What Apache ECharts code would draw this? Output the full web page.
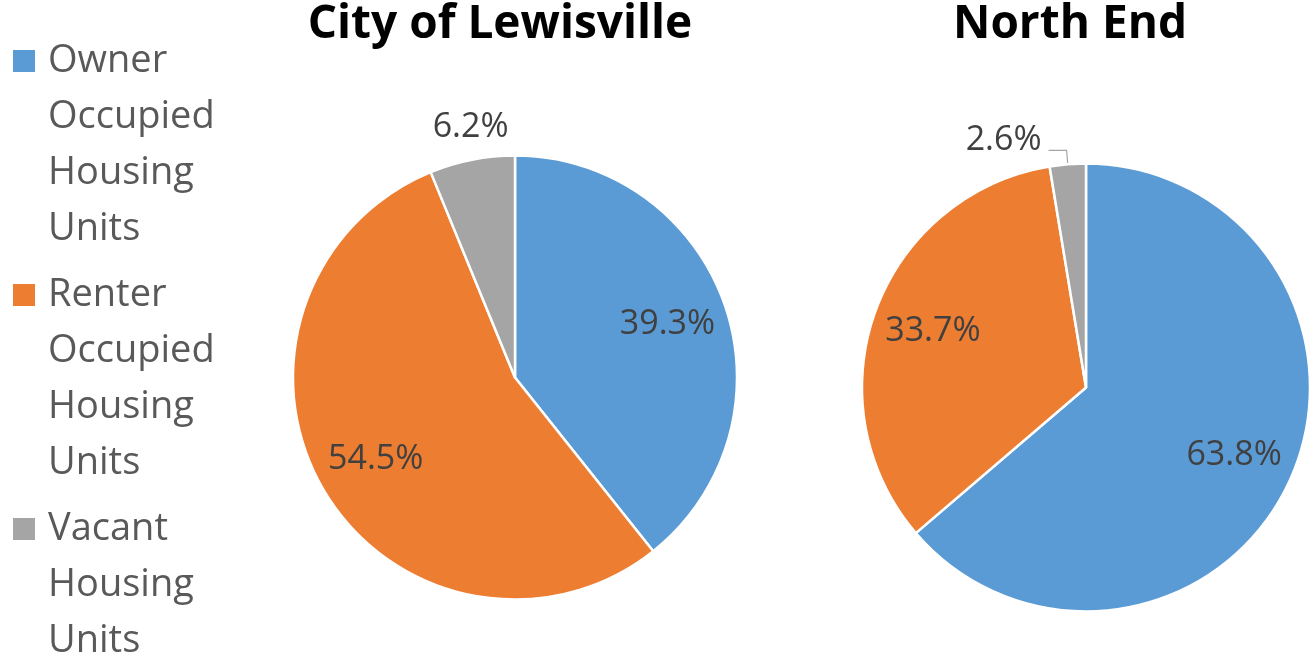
<!DOCTYPE html>
<html>
<head>
<meta charset="utf-8">
<script src="https://cdn.jsdelivr.net/npm/echarts@6/dist/echarts.min.js"></script>
<style>
    html, body { margin: 0; padding: 0; background: #fff; }
    #chart { width: 1316px; height: 656px; }
</style>
</head>
<body>
<div id="chart"></div>
<script>
const categories = ['Owner Occupied Housing Units', 'Renter Occupied Housing Units', 'Vacant Housing Units'];
const lewisville = [39.3, 54.5, 6.2];
const northEnd = [63.8, 33.7, 2.6];
const colors = ['#5B9BD5', '#ED7D31', '#A5A5A5'];

const font = '"Open Sans", sans-serif';

// square sits on the first text line; invisible points stretch the icon box to 4 lines
const legendIcon = 'path://M0,0L0.01,0M0,17L22,17L22,39L0,39ZM0,224L0.01,224';

function pieData(values) {
    return values.map((v, i) => ({
        name: categories[i],
        value: v,
        label: i === 2 ? { position: 'outside' } : undefined
    }));
}

function basePie(values, center, r) {
    return {
        type: 'pie',
        center: center,
        radius: [0, r],
        startAngle: 90,
        label: { show: false },
        labelLine: { show: false },
        itemStyle: { borderColor: '#fff', borderWidth: 2.5 },
        data: values.map((v, i) => ({ name: categories[i], value: v }))
    };
}

function labelPie(values, center, r, extra) {
    return Object.assign({
        type: 'pie',
        center: center,
        radius: [Math.round(r * 0.43), r],
        startAngle: 90,
        silent: true,
        avoidLabelOverlap: false,
        itemStyle: { color: 'rgba(0,0,0,0)', borderWidth: 0 },
        label: {
            show: true,
            position: 'inside',
            fontFamily: font,
            fontSize: 34,
            color: '#404040',
            formatter: p => p.value.toFixed(1) + '%'
        },
        data: pieData(values)
    }, extra);
}

const chart = echarts.init(document.getElementById('chart'));

chart.setOption({
    animation: false,
    color: colors,
    title: [
        {
            text: 'City of Lewisville', left: 500, top: 2, textAlign: 'center', padding: 0,
            textStyle: { fontFamily: font, fontSize: 46, fontWeight: 'bold', color: '#000' }
        },
        {
            text: 'North End', left: 1070, top: 2, textAlign: 'center', padding: 0,
            textStyle: { fontFamily: font, fontSize: 46, fontWeight: 'bold', color: '#000' }
        }
    ],
    legend: {
        orient: 'vertical',
        left: 13,
        top: 33,
        height: 900,
        padding: 0,
        itemWidth: 22,
        itemHeight: 224,
        itemGap: 10,
        icon: legendIcon,
        itemStyle: { borderWidth: 0 },
        data: categories,
        formatter: name => {
            const lines = name.split(' ');
            while (lines.length < 4) lines.push('');
            return lines.join('\n');
        },
        textStyle: {
            fontFamily: font,
            fontSize: 38,
            lineHeight: 56,
            color: '#595959',
            padding: [0, 0, 0, 8]
        }
    },
    series: [
        basePie(lewisville, [515, 377.5], 222),
        basePie(northEnd, [1086, 387.5], 224),
        labelPie(lewisville, [515, 377.5], 222, {
            labelLine: { show: false, length: 18, length2: 0 },
            labelLayout: p => (p.dataIndex === 2 ? { dx: 45, dy: -15 } : {})
        }),
        labelPie(northEnd, [1086, 387.5], 224, {
            labelLine: {
                show: true, length: 14, length2: 18,
                lineStyle: { color: '#A5A5A5', width: 1.2 }
            },
            labelLayout: p => (p.dataIndex === 2 ? { dx: -2, dy: -10 } : {})
        })
    ]
});
</script>
</body>
</html>
